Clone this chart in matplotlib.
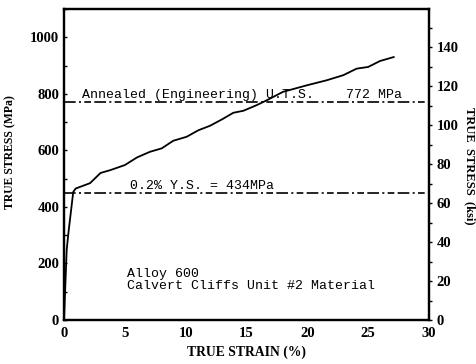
import numpy as np
import matplotlib.pyplot as plt
from matplotlib.ticker import MultipleLocator

# true stress-strain curve
strain = [0, 0.22, 0.36, 0.76, 0.96, 2.14, 3.0, 3.8, 5.0, 6.0, 7.07, 8.03, 8.98,
          10.08, 11.04, 12.0, 12.96, 13.92, 14.74, 15.84, 16.66, 18.0, 19.95,
          21.6, 22.96, 24.05, 25.0, 25.97, 27.1]
stress = [0, 247, 307, 453, 465, 484, 520, 530, 548, 575, 595, 607, 634,
          648, 671, 687, 709, 733, 740, 760, 777, 807, 830,
          848, 866, 889, 895, 916, 930]

uts_line = 772   # MPa
ys_line = 450    # MPa (drawn position)
mpa_per_ksi = 6.895

serif = 'Liberation Serif'
mono = 'Liberation Mono'

fig = plt.figure(figsize=(4.77, 3.64), dpi=100)
ax = fig.add_axes([64/477, 44/364, 365/477, 311/364])

ax.plot(strain, stress, color='black', lw=1.3)
dash = (0, (7, 2, 1.2, 2, 4, 2))
ax.axhline(uts_line, color='black', lw=1.2, linestyle=dash)
ax.axhline(ys_line, color='black', lw=1.2, linestyle=dash)

ax.set_xlim(0, 30)
ax.set_ylim(0, 1100)
ax.xaxis.set_major_locator(MultipleLocator(5))
ax.yaxis.set_major_locator(MultipleLocator(200))
ax.yaxis.set_minor_locator(MultipleLocator(100))
ax.tick_params(axis='y', which='both', direction='in', length=2, width=1)
ax.tick_params(axis='x', which='both', length=0, pad=5)
for s in ax.spines.values():
    s.set_linewidth(1.6)

for lab in ax.get_xticklabels() + ax.get_yticklabels():
    lab.set_fontfamily(serif)
    lab.set_fontweight('bold')
    lab.set_fontsize(10.5)

ax.set_xlabel('TRUE STRAIN (%)', fontfamily=serif, fontweight='bold', fontsize=9.8, labelpad=4)
ax.set_ylabel('TRUE STRESS (MPa)', fontfamily=serif, fontweight='bold', fontsize=8.5)
ax.yaxis.set_label_coords(-0.131, 0.54)

ax2 = ax.twinx()
ax2.set_ylim(0, 1100 / mpa_per_ksi)
ax2.yaxis.set_major_locator(MultipleLocator(20))
ax2.yaxis.set_minor_locator(MultipleLocator(10))
ax2.tick_params(axis='y', which='both', direction='out', length=2, width=1)
for lab in ax2.get_yticklabels():
    lab.set_fontfamily(serif)
    lab.set_fontweight('bold')
    lab.set_fontsize(10.5)
ax2.set_ylabel('TRUE  STRESS  (ksi)', fontfamily=serif, fontweight='bold', fontsize=9,
               rotation=270, va='center')
ax2.yaxis.set_label_coords(1.112, 0.495)
for s in ax2.spines.values():
    s.set_linewidth(1.6)

ax.text(1.5, uts_line + 4, 'Annealed (Engineering) U.T.S.    772 MPa',
        fontfamily=mono, fontsize=9.5, va='bottom', ha='left')
ax.text(5.4, ys_line + 4, '0.2% Y.S. = 434MPa',
        fontfamily=mono, fontsize=9.5, va='bottom', ha='left')
ax.text(5.2, 142, 'Alloy 600\nCalvert Cliffs Unit #2 Material',
        fontfamily=mono, fontsize=9.5, va='center', ha='left', linespacing=0.95)

fig.savefig('out.png', dpi=100)
